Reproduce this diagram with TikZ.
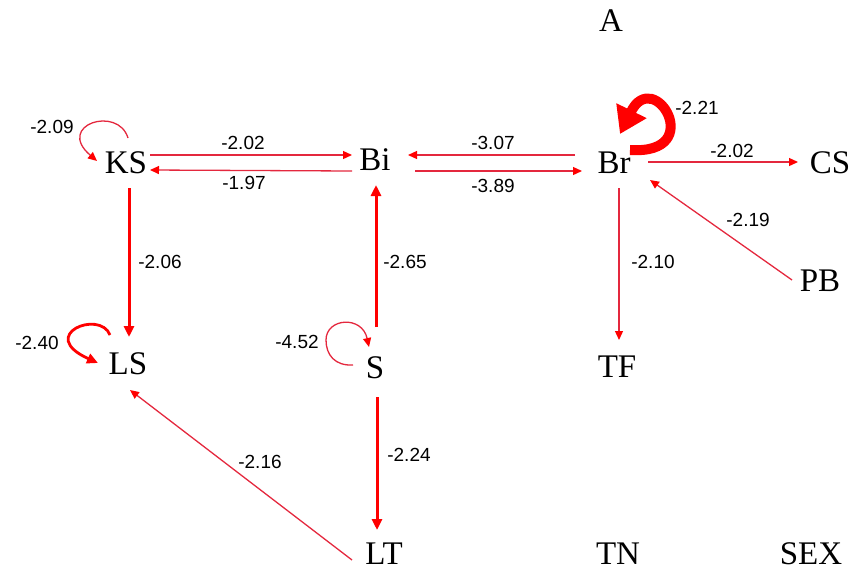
\documentclass[tikz,border=0pt]{standalone}
\usepackage{fontspec}
\setmainfont{Liberation Serif}
\newfontfamily\labfont{Liberation Sans}
\usetikzlibrary{arrows.meta,calc}
\definecolor{thinred}{RGB}{228,40,62}
\definecolor{fullred}{RGB}{255,0,0}
\tikzset{
  nd/.style={inner sep=0pt, font=\fontsize{33}{33}\selectfont},
  lab/.style={inner sep=0pt, font=\labfont\fontsize{19}{19}\selectfont},
  thinarr/.style={draw=thinred, line width=1.3pt, -{Triangle[length=9pt,width=8pt,color=fullred]}},
  thickarr/.style={draw=fullred, line width=3pt, -{Triangle[length=11pt,width=10pt]}},
  hugearr/.style={draw=fullred, line width=10pt, -{Triangle[length=26pt,width=32pt]}}
}
\begin{document}
\begin{tikzpicture}[x=1pt,y=-1pt]
\useasboundingbox (0,0) rectangle (850,573);
% nodes
\node[nd] (A)   at (611,21)  {A};
\node[nd] (KS)  at (126,163) {KS};
\node[nd] (Bi)  at (375,160) {Bi};
\node[nd] (Br)  at (614,163) {Br};
\node[nd] (CS)  at (830,163) {CS};
\node[nd] (PB)  at (820,281) {PB};
\node[nd] (LS)  at (128,364) {LS};
\node[nd] (S)   at (375,368) {S};
\node[nd] (TF)  at (617,367) {TF};
\node[nd] (LT)  at (384,554) {LT};
\node[nd] (TN)  at (618,554) {TN};
\node[nd] (SEX) at (811,554) {SEX};
% straight connectors
\draw[thinarr] ($(KS)+(24,-8)$) -- ($(Bi)+(-23,-5)$);
\draw[thinarr] ($(Bi)+(-23,11)$) -- ($(KS)+(24,7)$);
\draw[thinarr] ($(Br)+(-39,-8)$) -- ($(Bi)+(33,-5)$);
\draw[thinarr] ($(Bi)+(40,11)$) -- ($(Br)+(-32,8)$);
\draw[thinarr] ($(Br)+(34,-1)$) -- ($(CS)+(-32,-1)$);
\draw[thinarr] ($(PB)+(-28,-1)$) -- ($(Br)+(36,17)$);
\draw[thinarr] ($(Br)+(5,25)$) -- ($(TF)+(2,-27)$);
\draw[thickarr] ($(KS)+(3,25)$) -- ($(LS)+(1,-27)$);
\draw[thickarr] ($(S)+(1,-41)$) -- ($(Bi)+(1,25)$);
\draw[thickarr] ($(S)+(2,29)$) -- ($(LT)+(-7,-24)$);
\draw[thinarr] ($(LT)+(-32,6)$) -- ($(LS)+(2,26)$);
% self loops
\draw[thinarr] ($(KS)+(2,-25)$) .. controls ($(KS)+(-8,-58)$) and ($(KS)+(-71,-38)$) .. ($(KS)+(-29,-2)$);
\draw[thickarr, line width=2.8pt] ($(LS)+(-18,-29)$) .. controls ($(LS)+(-28,-55)$) and ($(LS)+(-92,-29)$) .. ($(LS)+(-30,-1)$);
\draw[thinarr] ($(S)+(-22,-3)$) .. controls ($(S)+(-40,-2)$) and ($(S)+(-49,-13)$) .. ($(S)+(-49,-28)$)
   .. controls ($(S)+(-49,-50)$) and ($(S)+(-13,-53)$) .. ($(S)+(-6,-21)$);
\draw[hugearr] ($(Br)+(16,-13)$) .. controls ($(Br)+(94,-8)$) and ($(Br)+(40,-98)$) .. ($(Br)+(6,-29)$);
% labels
\node[lab] (l1)  at (52,127)  {-2.09};
\node[lab] (l2)  at (243,143) {-2.02};
\node[lab] (l3)  at (244,183) {-1.97};
\node[lab] (l4)  at (493,143) {-3.07};
\node[lab] (l5)  at (493,186) {-3.89};
\node[lab] (l6)  at (697,108) {-2.21};
\node[lab] (l7)  at (732,151) {-2.02};
\node[lab] (l8)  at (748,220) {-2.19};
\node[lab] (l9)  at (653,262) {-2.10};
\node[lab] (l10) at (160,262) {-2.06};
\node[lab] (l11) at (405,262) {-2.65};
\node[lab] (l12) at (37,343)  {-2.40};
\node[lab] (l13) at (297,342) {-4.52};
\node[lab] (l14) at (409,455) {-2.24};
\node[lab] (l15) at (260,462) {-2.16};
\end{tikzpicture}
\end{document}
